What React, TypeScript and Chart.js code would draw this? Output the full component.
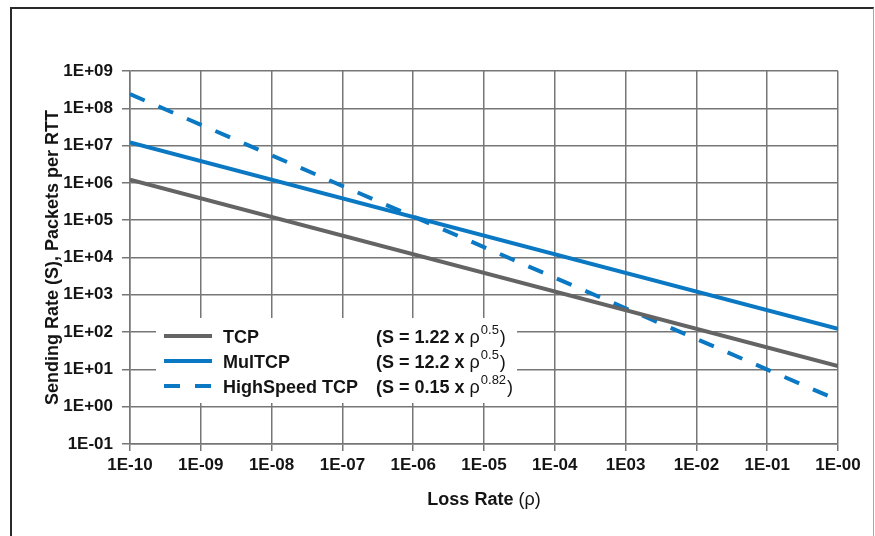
import React, { useEffect, useRef } from "react";
import { Chart, registerables } from "chart.js";

Chart.register(...registerables);

// ---- data ----
const X_VALUES = [1e-10, 1];
const TCP = [1.22e6, 12.2];
const MULTCP = [1.22e7, 122];
const HIGHSPEED = [2.4e8, 1.5];

const X_TICK_VALUES = [1e-10, 1e-9, 1e-8, 1e-7, 1e-6, 1e-5, 1e-4, 1e-3, 1e-2, 1e-1, 1];
const X_TICK_LABELS = ["1E-10", "1E-09", "1E-08", "1E-07", "1E-06", "1E-05", "1E-04", "1E03", "1E-02", "1E-01", "1E-00"];
const Y_TICK_VALUES = [1e-1, 1, 1e1, 1e2, 1e3, 1e4, 1e5, 1e6, 1e7, 1e8, 1e9];
const Y_TICK_LABELS = ["1E-01", "1E+00", "1E+01", "1E+02", "1E+03", "1E+04", "1E+05", "1E+06", "1E+07", "1E+08", "1E+09"];

const SERIES_NAMES = ["TCP", "MulTCP", "HighSpeed TCP"];
const FORMULA_COEFS = ["1.22", "12.2", "0.15"];
const FORMULA_EXPS = ["0.5", "0.5", "0.82"];

const X_TITLE = "Loss Rate";
const Y_TITLE = "Sending Rate (S), Packets per RTT";

// ---- styles ----
const FAM = '"Liberation Sans", Arial, sans-serif';
const FS = 18;
const TICK_FS = 17;
const TEXT = "#141414";
const GRID = "#767676";
const GRAY = "#646464";
const BLUE = "#0a78c2";
const COLORS = [GRAY, BLUE, BLUE];
const DASHES = [[], [], [16, 15]];

const decorPlugin = {
  id: "decor",
  afterDraw(chart: any) {
    const ctx = chart.ctx as CanvasRenderingContext2D;
    const ca = chart.chartArea;
    ctx.save();
    // legend box
    const bx = ca.left + 26, by = ca.top + 247, bw = 361, bh = 85;
    ctx.fillStyle = "#ffffff";
    ctx.fillRect(bx, by, bw, bh);
    const rowY0 = by + 18;
    for (let i = 0; i < SERIES_NAMES.length; i++) {
      const y = rowY0 + i * 25;
      ctx.beginPath();
      ctx.setLineDash(DASHES[i]);
      ctx.strokeStyle = COLORS[i];
      ctx.lineWidth = 4;
      ctx.moveTo(bx + 8, y);
      ctx.lineTo(bx + 56, y);
      ctx.stroke();
      ctx.setLineDash([]);
      ctx.fillStyle = TEXT;
      ctx.textBaseline = "alphabetic";
      ctx.textAlign = "left";
      ctx.font = `bold ${FS}px ${FAM}`;
      const base = y + 7;
      ctx.fillText(SERIES_NAMES[i], bx + 67, base);
      let fx = bx + 220;
      const p1 = `(S = ${FORMULA_COEFS[i]} x `;
      ctx.fillText(p1, fx, base);
      fx += ctx.measureText(p1).width;
      ctx.font = `${FS}px ${FAM}`;
      ctx.fillText("\u03c1", fx, base);
      fx += ctx.measureText("\u03c1").width + 1;
      ctx.font = `13px ${FAM}`;
      ctx.fillText(FORMULA_EXPS[i], fx, base - 9);
      fx += ctx.measureText(FORMULA_EXPS[i]).width + 1;
      ctx.font = `${FS}px ${FAM}`;
      ctx.fillText(")", fx, base);
    }
    // x axis title
    ctx.font = `bold ${FS}px ${FAM}`;
    const t1 = X_TITLE + " ";
    const w1 = ctx.measureText(t1).width;
    ctx.font = `${FS}px ${FAM}`;
    const t2 = "(\u03c1)";
    const w2 = ctx.measureText(t2).width;
    const cx = (ca.left + ca.right) / 2;
    const tx = cx - (w1 + w2) / 2;
    const ty = ca.bottom + 61;
    ctx.fillStyle = TEXT;
    ctx.textAlign = "left";
    ctx.font = `bold ${FS}px ${FAM}`;
    ctx.fillText(t1, tx, ty);
    ctx.font = `${FS}px ${FAM}`;
    ctx.fillText(t2, tx + w1, ty);
    ctx.restore();
  },
};

export default function App() {
  const ref = useRef<HTMLCanvasElement | null>(null);

  useEffect(() => {
    if (!ref.current) return;
    const mk = (vals: number[]) => X_VALUES.map((x, i) => ({ x, y: vals[i] }));
    const chart = new Chart(ref.current, {
      type: "line",
      data: {
        datasets: [
          { label: SERIES_NAMES[0], data: mk(TCP), borderColor: COLORS[0], borderWidth: 4, pointRadius: 0, fill: false },
          { label: SERIES_NAMES[1], data: mk(MULTCP), borderColor: COLORS[1], borderWidth: 4, pointRadius: 0, fill: false },
          { label: SERIES_NAMES[2], data: mk(HIGHSPEED), borderColor: COLORS[2], borderWidth: 4, borderDash: DASHES[2], pointRadius: 0, fill: false },
        ],
      },
      options: {
        animation: false,
        responsive: false,
        devicePixelRatio: 1,
        layout: { padding: { left: 0, top: 71, right: 37, bottom: 0 } },
        plugins: { legend: { display: false }, tooltip: { enabled: false } },
        scales: {
          x: {
            type: "logarithmic",
            min: 1e-10,
            max: 1,
            afterBuildTicks: (s: any) => {
              s.ticks = X_TICK_VALUES.map((value) => ({ value }));
            },
            afterFit: (s: any) => {
              s.height = 92;
            },
            ticks: {
              autoSkip: false,
              maxRotation: 0,
              padding: 4,
              color: TEXT,
              font: { family: FAM, size: TICK_FS, weight: "bold" },
              callback: (_v: any, i: number) => X_TICK_LABELS[i],
            },
            grid: { color: GRID, lineWidth: 1.5, tickLength: 7, tickColor: GRID },
            border: { color: GRID, width: 1.5 },
          },
          y: {
            type: "logarithmic",
            min: 0.1,
            max: 1e9,
            afterBuildTicks: (s: any) => {
              s.ticks = Y_TICK_VALUES.map((value) => ({ value }));
            },
            afterFit: (s: any) => {
              s.width = 130;
            },
            ticks: {
              autoSkip: false,
              padding: 9,
              color: TEXT,
              font: { family: FAM, size: TICK_FS, weight: "bold" },
              callback: (_v: any, i: number) => Y_TICK_LABELS[i],
            },
            grid: { color: GRID, lineWidth: 1.5, tickLength: 8, tickColor: GRID },
            border: { color: GRID, width: 1.5 },
            title: {
              display: true,
              text: Y_TITLE,
              color: TEXT,
              font: { family: FAM, size: FS, weight: "bold" },
              padding: { top: 42, bottom: 0 },
            },
          },
        },
      },
      plugins: [decorPlugin],
    } as any);
    return () => chart.destroy();
  }, []);

  return (
    <div style={{ position: "fixed", left: 0, top: 0, width: 875, height: 536, background: "#fff", overflow: "hidden" }}>
      <div
        style={{
          position: "absolute",
          left: 10,
          top: 7,
          width: 861,
          height: 620,
          borderLeft: "2px solid #2a2a2a",
          borderTop: "2px solid #2a2a2a",
          borderRight: "1px solid #a8a8a8",
        }}
      />
      <canvas ref={ref} width={875} height={536} style={{ position: "absolute", left: 0, top: 0, display: "block" }} />
    </div>
  );
}
